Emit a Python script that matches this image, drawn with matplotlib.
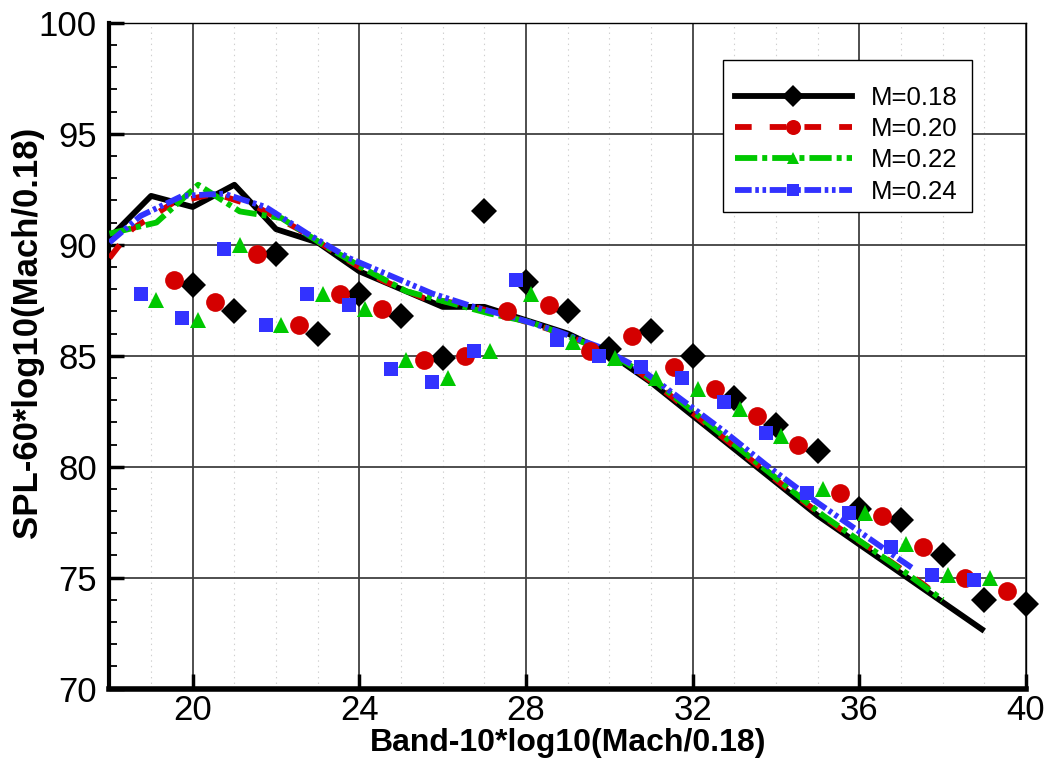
import matplotlib
matplotlib.use("Agg")
import matplotlib.pyplot as plt
from matplotlib.lines import Line2D
from matplotlib.patches import Rectangle
from matplotlib import font_manager as fm
from matplotlib.ticker import MultipleLocator

plt.rcParams['lines.scale_dashes'] = False
names = {f.name for f in fm.fontManager.ttflist}
NARROW = 'Liberation Sans Narrow' if 'Liberation Sans Narrow' in names else 'Liberation Sans'
REG = 'Liberation Sans'

# ---------------- data ----------------
labels = ["M=0.18", "M=0.20", "M=0.22", "M=0.24"]

# predicted spectra (lines)
line_x_018 = [18, 19, 20, 21, 22, 23, 24, 25, 26, 27, 28, 29, 30, 31, 32, 33, 34, 35, 36, 37, 38, 39]
line_y_018 = [90.3, 92.2, 91.7, 92.7, 90.7, 90.1, 88.8, 88.0, 87.2, 87.2, 86.6, 86.0, 85.1, 83.8,
              82.3, 80.8, 79.3, 77.8, 76.5, 75.2, 73.9, 72.6]
line_x_020 = [18.0, 18.54, 19.54, 20.54, 21.54, 22.54, 23.54, 24.54, 25.54, 26.54, 27.54, 28.54,
              29.54, 30.54, 31.54, 32.54, 33.54, 34.54, 35.54, 36.54, 37.54, 38.0]
line_y_020 = [89.4, 90.7, 91.9, 92.3, 91.7, 90.7, 89.5, 88.4, 87.6, 87.3, 86.8, 86.2,
              85.5, 84.5, 83.1, 81.6, 80.1, 78.6, 77.2, 76.0, 74.7, 74.0]
line_x_022 = [18.0, 19.13, 20.13, 21.13, 22.13, 23.13, 24.13, 25.13, 26.13, 27.13, 28.13, 29.13,
              30.13, 31.13, 32.13, 33.13, 34.13, 35.13, 36.13, 37.13, 38.0]
line_y_022 = [90.5, 91.0, 92.7, 91.5, 91.2, 90.0, 88.9, 87.9, 87.4, 86.9, 86.5, 85.8,
              85.0, 83.8, 82.3, 80.8, 79.3, 77.8, 76.5, 75.2, 74.0]
line_x_024 = [18.0, 18.75, 19.75, 20.75, 21.75, 22.75, 23.75, 24.75, 25.75, 26.75, 27.75, 28.75,
              29.75, 30.75, 31.75, 32.75, 33.75, 34.75, 35.75, 36.75, 37.3]
line_y_024 = [90.1, 91.3, 92.2, 92.3, 91.7, 90.5, 89.4, 88.6, 87.8, 87.2, 86.7, 86.1,
              85.4, 84.4, 83.0, 81.6, 80.1, 78.7, 77.4, 76.1, 75.4]

# measured spectra (symbols)
pt_x_018 = [20, 21, 22, 23, 24, 25, 26, 27, 28, 29, 30, 31, 32, 33, 34, 35, 36, 37, 38, 39, 40]
pt_y_018 = [88.2, 87.0, 89.6, 86.0, 87.8, 86.8, 84.9, 91.5, 88.3, 87.0, 85.3, 86.1, 85.0, 83.1,
            81.9, 80.7, 78.1, 77.6, 76.0, 74.0, 73.8]
pt_x_020 = [19.54, 20.54, 21.54, 22.54, 23.54, 24.54, 25.54, 26.54, 27.54, 28.54, 29.54, 30.54,
            31.54, 32.54, 33.54, 34.54, 35.54, 36.54, 37.54, 38.54, 39.54]
pt_y_020 = [88.4, 87.4, 89.6, 86.4, 87.8, 87.1, 84.8, 85.0, 87.0, 87.3, 85.2, 85.9, 84.5, 83.5,
            82.3, 81.0, 78.8, 77.8, 76.4, 75.0, 74.4]
pt_x_022 = [19.13, 20.13, 21.13, 22.13, 23.13, 24.13, 25.13, 26.13, 27.13, 28.13, 29.13, 30.13,
            31.13, 32.13, 33.13, 34.13, 35.13, 36.13, 37.13, 38.13, 39.13]
pt_y_022 = [87.5, 86.6, 90.0, 86.4, 87.8, 87.1, 84.8, 84.0, 85.2, 87.8, 85.6, 84.9, 84.0, 83.5,
            82.6, 81.4, 79.0, 77.9, 76.5, 75.1, 75.0]
pt_x_024 = [18.75, 19.75, 20.75, 21.75, 22.75, 23.75, 24.75, 25.75, 26.75, 27.75, 28.75, 29.75,
            30.75, 31.75, 32.75, 33.75, 34.75, 35.75, 36.75, 37.75, 38.75]
pt_y_024 = [87.8, 86.7, 89.8, 86.4, 87.8, 87.3, 84.4, 83.8, 85.2, 88.4, 85.7, 85.0, 84.5, 84.0,
            82.9, 81.5, 78.8, 77.9, 76.4, 75.1, 74.9]

x_ticks = [20, 24, 28, 32, 36, 40]
y_ticks = [70, 75, 80, 85, 90, 95, 100]

# ---------------- styles ----------------
colors = ["#000000", "#d40000", "#00c800", "#3232ff"]
dashes = [None, (12, 13), (16, 3.6, 3.6, 3.6), (12, 2.6, 2.6, 2.6, 2.6, 2.6)]
markers = ["D", "o", "^", "s"]
msizes = [13.5, 13.5, 11.5, 10]

lines = [(line_x_018, line_y_018), (line_x_020, line_y_020),
         (line_x_022, line_y_022), (line_x_024, line_y_024)]
pts = [(pt_x_018, pt_y_018), (pt_x_020, pt_y_020),
       (pt_x_022, pt_y_022), (pt_x_024, pt_y_024)]

W, H = 1047, 763
fig = plt.figure(figsize=(W / 100, H / 100), dpi=100)
ax = fig.add_axes([0.1045, 0.0974, 0.8754, 0.8728])

LW = 4.2
for i in range(4):
    x, y = lines[i]
    if dashes[i] is None:
        ax.plot(x, y, color=colors[i], lw=LW, solid_capstyle='butt', zorder=3)
    else:
        ax.plot(x, y, color=colors[i], lw=LW, dashes=dashes[i], dash_capstyle='butt', zorder=3 + i * 0.1)
for i in range(4):
    x, y = pts[i]
    ax.plot(x, y, linestyle='none', marker=markers[i], ms=msizes[i], color=colors[i],
            markeredgewidth=0, zorder=5, clip_on=False)

ax.set_xlim(18, 40)
ax.set_ylim(70, 100)
ax.set_xticks(x_ticks)
ax.set_yticks(y_ticks)
ax.xaxis.set_minor_locator(MultipleLocator(1))
ax.yaxis.set_minor_locator(MultipleLocator(1))
ax.grid(which='major', color='#404040', lw=1.3)
ax.grid(which='minor', axis='x', color='#cfcfcf', lw=0.8, linestyle=(0, (1, 3)))
ax.set_axisbelow(True)

ax.tick_params(axis='both', which='major', direction='in', length=11, width=2.5)
ax.tick_params(axis='y', which='minor', direction='in', length=6, width=1.3)
ax.tick_params(axis='x', which='minor', length=0)
ax.tick_params(axis='x', which='both', top=False)
ax.tick_params(axis='y', which='both', right=False)
ax.tick_params(axis='y', labelsize=25, pad=9)
ax.tick_params(axis='x', labelsize=25, pad=4)
for lab in ax.get_yticklabels():
    lab.set_fontfamily(REG)
for lab in ax.get_xticklabels():
    lab.set_fontfamily(NARROW)

ax.spines['left'].set_linewidth(3)
ax.spines['bottom'].set_linewidth(4)
ax.spines['top'].set_linewidth(1)
ax.spines['right'].set_linewidth(1)

ax.set_xlabel("Band-10*log10(Mach/0.18)", fontsize=23, fontweight='bold', family=NARROW)
ax.xaxis.set_label_coords(0.5, -(728 - 688.7) / 666)
ax.xaxis.label.set_va('top')
ax.set_ylabel("SPL-60*log10(Mach/0.18)", fontsize=25, fontweight='bold', family=REG)
ax.yaxis.set_label_coords((27 - 109.4) / 916.6, (688.7 - 332) / 666)
ax.yaxis.label.set_va('center')

# legend
handles = []
for i in range(4):
    kw = dict(color=colors[i], lw=LW, marker=markers[i], ms=msizes[i] * 0.8, markeredgewidth=0)
    if dashes[i] is not None:
        kw['dashes'] = dashes[i]
    handles.append(Line2D([], [], **kw))
leg = ax.legend(handles, labels, loc='upper left', bbox_to_anchor=(735 / W, 1 - 86 / H),
                bbox_transform=fig.transFigure, prop={'family': REG, 'size': 18.5},
                handlelength=4.55, handletextpad=0.75, labelspacing=0.28, borderpad=0,
                frameon=False, numpoints=1, borderaxespad=0)
leg.set_zorder(10)
frame = Rectangle((722.7 / W, 1 - 211.7 / H), (971.7 - 722.7) / W, (211.7 - 60) / H,
                  transform=fig.transFigure, facecolor='white', edgecolor='black', lw=1.0, zorder=9)
ax.add_artist(frame)
frame.set_clip_on(False)

fig.savefig("out.png", dpi=100)
